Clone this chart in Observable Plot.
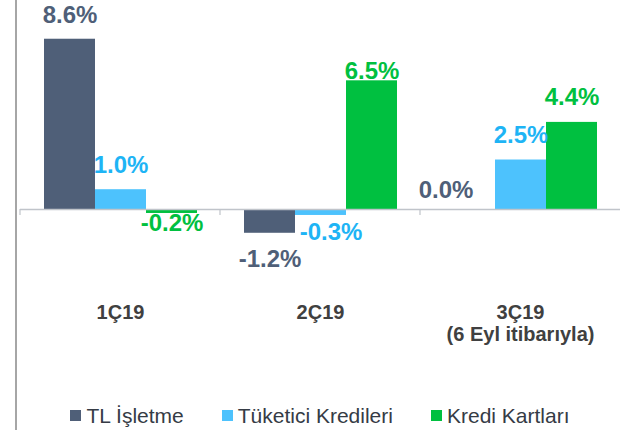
<!DOCTYPE html>
<html>
<head>
<meta charset="utf-8">
<script src="https://cdn.jsdelivr.net/npm/d3@7"></script>
<script src="https://cdn.jsdelivr.net/npm/@observablehq/plot@0.6"></script>
<style>
  html, body { margin: 0; padding: 0; background: #fff; }
  body { font-family: "Liberation Sans", Arial, sans-serif; }
  #wrap { position: relative; width: 620px; height: 430px; overflow: hidden; }
  #vline { position: absolute; left: 15px; top: 0; width: 2px; height: 430px; background: #a6a6a6; }
  #chart svg { display: block; }
  #legend { display: flex; justify-content: center; align-items: center; padding-left: 20px; padding-top: 10px;
            font-size: 21px; line-height: 21px; color: #353b45; }
  .item { display: flex; align-items: center; margin: 0 19px; }
  .sw { width: 11px; height: 11px; margin-right: 5px; }
</style>
</head>
<body>
<div id="wrap">
  <div id="chart"></div>
  <div id="legend"></div>
  <div id="vline"></div>
</div>
<script>
// ---- data ----
const categories = ["1Ç19", "2Ç19", "3Ç19"];
const categoryNotes = ["", "", "(6 Eyl itibarıyla)"];
const series = ["TL İşletme", "Tüketici Kredileri", "Kredi Kartları"];
const tlIsletme = [8.6, -1.2, 0.0];
const tuketiciKredileri = [1.0, -0.3, 2.5];
const krediKartlari = [-0.2, 6.5, 4.4];

// ---- styling ----
const barColors = ["#4f5f78", "#4dc2fd", "#00c040"];
const labelColors = ["#4f5f78", "#1eb4f5", "#00c040"];
// label placement tweaks (pixels): [dx, dy]
const labelPlacement = {
  "1Ç19|TL İşletme": [0, -16],
  "1Ç19|Tüketici Kredileri": [0, -17],
  "1Ç19|Kredi Kartları": [0, 0],
  "2Ç19|TL İşletme": [0, 17],
  "2Ç19|Tüketici Kredileri": [10, 7],
  "2Ç19|Kredi Kartları": [0, -2],
  "3Ç19|TL İşletme": [-24, -12],
  "3Ç19|Tüketici Kredileri": [0, -17],
  "3Ç19|Kredi Kartları": [0, -17]
};

const valuesBySeries = [tlIsletme, tuketiciKredileri, krediKartlari];
const rows = [];
categories.forEach((c, i) => {
  series.forEach((s, j) => {
    rows.push({cat: c, note: categoryNotes[i], series: s, value: valuesBySeries[j][i], si: j});
  });
});

const fmt = v => v.toFixed(1) + "%";
const H = 395;

const labelMarks = rows.map(r => {
  const [dx, dy] = labelPlacement[r.cat + "|" + r.series] || [0, 0];
  return Plot.text(rows, {
    filter: d => d === r,
    x: "series",
    y: "value",
    text: d => fmt(d.value),
    dx, dy,
    lineAnchor: r.value < 0 ? "top" : "bottom",
    fill: labelColors[r.si],
    fontSize: 24,
    fontWeight: "bold"
  });
});

const plot = Plot.plot({
  width: 620,
  height: H,
  marginLeft: 20,
  marginRight: 0,
  marginTop: 0,
  marginBottom: 105,
  style: {fontFamily: "'Liberation Sans', Arial, sans-serif", background: "transparent", overflow: "visible"},
  facet: {data: rows, x: "cat", label: null},
  fx: {domain: categories, paddingInner: 0.23, paddingOuter: 0.115, axis: null, label: null},
  x: {domain: series, padding: 0, axis: null},
  y: {domain: [-4.09, 10.556], axis: null},
  color: {domain: series, range: barColors},
  marks: [
    Plot.barY(rows, {x: "series", y: "value", fill: "series"}),
    Plot.ruleY(rows, {filter: d => d.si === 0, y: () => 0, stroke: "#c0c4ca", strokeWidth: 1.5, insetLeft: -23, insetRight: -23}),
    ...labelMarks,
    Plot.text(rows, {
      filter: d => d.si === 0,
      text: d => d.note ? d.cat + "\n" + d.note : d.cat,
      frameAnchor: "bottom",
      lineAnchor: "top",
      dy: 13,
      lineHeight: 1.1,
      fontSize: 20,
      fontWeight: "bold",
      fill: "#404040"
    })
  ]
});

document.getElementById("chart").appendChild(plot);

// small tick marks at category band boundaries, from the fx and y scales
try {
  const fx = plot.scale("fx");
  const y = plot.scale("y");
  const step = fx.step || (fx.range[1] - fx.range[0]) / categories.length;
  const bw = fx.bandwidth;
  const y0 = y.apply(0);
  const svg = d3.select(plot.tagName.toLowerCase() === "svg" ? plot : plot.querySelector("svg"));
  const g = svg.append("g").attr("stroke", "#c0c4ca").attr("stroke-width", 1.2);
  categories.forEach(c => {
    const left = fx.apply(c) - (step - bw) / 2;
    g.append("line").attr("x1", left).attr("x2", left).attr("y1", y0).attr("y2", y0 + 6);
  });
} catch (e) { console.error(e); }

// legend
const legend = d3.select("#legend");
series.forEach((s, j) => {
  const it = legend.append("div").attr("class", "item");
  it.append("div").attr("class", "sw").style("background", barColors[j]);
  it.append("span").text(s);
});
</script>
</body>
</html>
